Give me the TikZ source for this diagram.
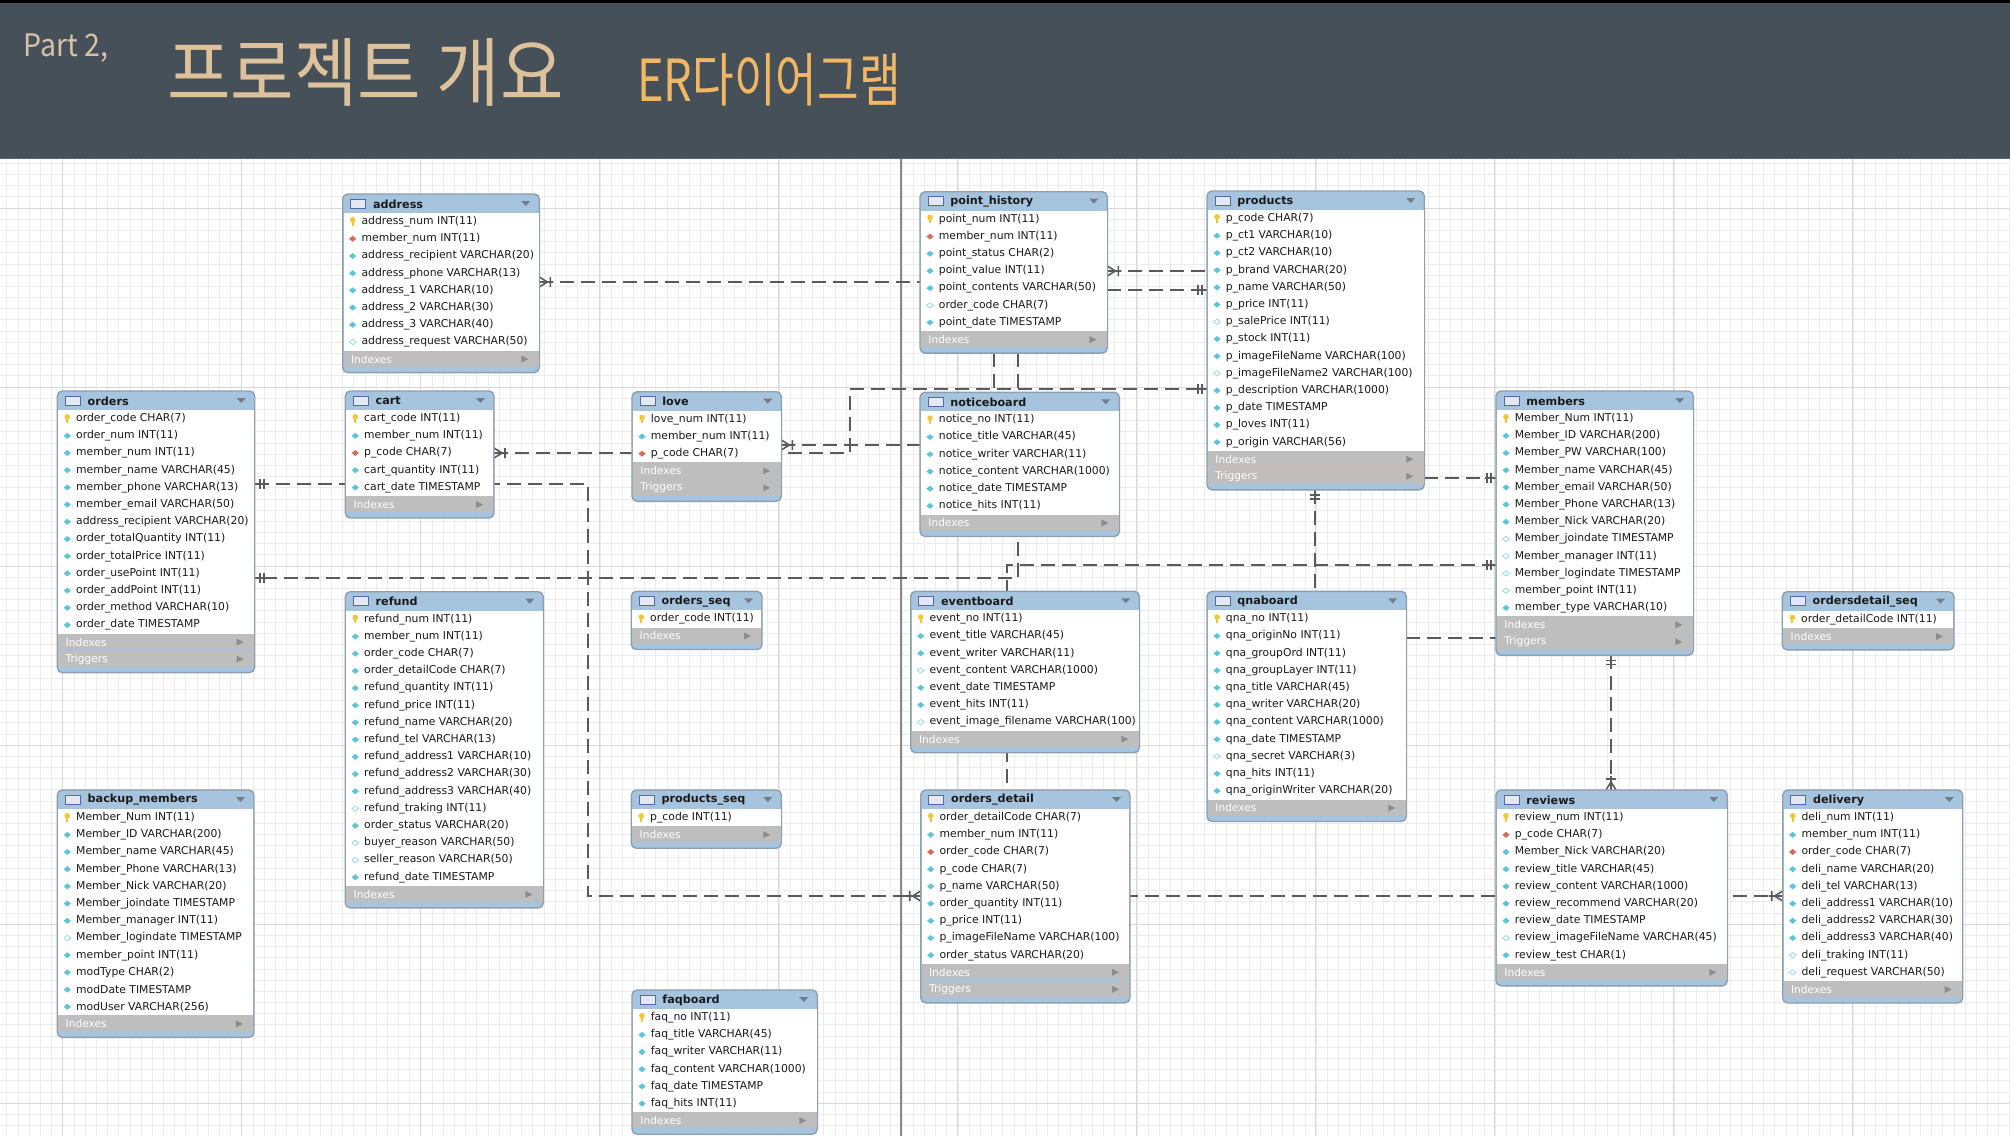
\documentclass[tikz,border=0pt]{standalone}
\usepackage{fontspec}
\setmainfont{DejaVu Sans}
\newfontfamily\krfont{Noto Sans CJK KR}
\usetikzlibrary{fit}
\pgfdeclarelayer{gridlayer}
\pgfdeclarelayer{linklayer}
\pgfsetlayers{gridlayer,linklayer,main}

\definecolor{hdrbg}{HTML}{465059}
\definecolor{hdrline}{HTML}{5E6872}
\definecolor{parttxt}{HTML}{D6C2A6}
\definecolor{ttltxt}{HTML}{DCC19C}
\definecolor{ertxt}{HTML}{F2B765}
\definecolor{gridminor}{HTML}{ECECEC}
\definecolor{gridmajor}{HTML}{D9D9D9}
\definecolor{pageline}{HTML}{8A8A8A}
\definecolor{hdrblue}{HTML}{A7C4DF}
\definecolor{tbborder}{HTML}{8E9FB0}
\definecolor{footgray}{HTML}{BEBEBE}
\definecolor{footarrow}{HTML}{8C8C8C}
\definecolor{droptri}{HTML}{6F7D8C}
\definecolor{rowcol}{HTML}{1A1A1A}
\definecolor{keyyel}{HTML}{F5C537}
\definecolor{diacyan}{HTML}{5CC6D6}
\definecolor{diared}{HTML}{D66A60}
\definecolor{iconfill}{HTML}{E4E8F6}
\definecolor{iconedge}{HTML}{5668A8}
\definecolor{linkcol}{HTML}{5A5A5A}

\tikzset{
  rowtext/.style={font=\fontsize{5.4}{6}\selectfont,text=rowcol,inner sep=0pt,anchor=west},
  ttltext/.style={font=\bfseries\fontsize{5.6}{6}\selectfont,text=rowcol,inner sep=0pt,anchor=west},
  foottext/.style={font=\fontsize{5.3}{6}\selectfont,text=white,inner sep=0pt,anchor=west},
  link/.style={draw=linkcol,line width=0.8pt,dash pattern=on 7pt off 3.5pt},
  markline/.style={draw=linkcol,line width=0.8pt},
  onemark/.pic={\draw[markline] (0,0) -- (11,0) (5,-5) -- (5,5) (9,-5) -- (9,5);},
  manymark/.pic={\draw[markline] (0,-5) -- (8,0) -- (0,5) (0,0) -- (14,0) (11,-5) -- (11,5);}
}

\newcommand\iconK[2]{\fill[keyyel] (#1,#2-1.8) circle[radius=1.4pt]; \draw[keyyel,line width=0.9pt] (#1,#2-1) -- (#1,#2+4);}
\newcommand\iconC[2]{\fill[diacyan] (#1-3.6,#2) -- (#1,#2-3) -- (#1+3.6,#2) -- (#1,#2+3) -- cycle;}
\newcommand\iconF[2]{\fill[diared] (#1-3.6,#2) -- (#1,#2-3) -- (#1+3.6,#2) -- (#1,#2+3) -- cycle;}
\newcommand\iconO[2]{\filldraw[fill=white,draw=diacyan!70,line width=0.35pt] (#1-3.3,#2) -- (#1,#2-2.7) -- (#1+3.3,#2) -- (#1,#2+2.7) -- cycle;}

% name, x, y, w, nrows, nfooters, title, rows
\newcommand\dbtable[8]{%
  \pgfmathsetmacro\tbA{#3+19}%
  \pgfmathsetmacro\tbB{#3+19+17.2*#5}%
  \pgfmathsetmacro\tbC{#3+19+17.2*#5+17*#6+5}%
  \pgfmathsetmacro\tbR{#2+#4}%
  \draw[draw=tbborder,line width=0.7pt,fill=hdrblue,rounded corners=2.5pt] (#2,#3) rectangle (\tbR,\tbC);
  \fill[white] (#2+0.8,\tbA) rectangle (\tbR-0.8,\tbB);
  \foreach \j in {1,...,#6}{%
    \pgfmathsetmacro\fy{\tbB+17*\j-17}%
    \fill[footgray] (#2+0.8,\fy) rectangle (\tbR-0.8,\fy+16.2);
    \node[foottext] at (#2+8,\fy+8.5) {\ifnum\j=1 Indexes\else Triggers\fi};
    \fill[footarrow] (\tbR-18,\fy+5) -- (\tbR-18,\fy+12) -- (\tbR-11,\fy+8.5) -- cycle;
  }
  \draw[iconedge,fill=iconfill,line width=0.4pt] (#2+8,#3+5) rectangle (#2+23,#3+14);
  \node[ttltext] at (#2+30,#3+10) {#7};
  \fill[droptri] (\tbR-18,#3+7) -- (\tbR-9,#3+7) -- (\tbR-13.5,#3+12) -- cycle;
  \foreach \ty/\tx [count=\i from 0] in {#8}{%
    \pgfmathsetmacro\ry{#3+19+8.6+17.2*\i}%
    \csname icon\ty\endcsname{#2+10}{\ry}%
    \node[rowtext] at (#2+18.5,\ry) {\tx};
  }
  \node[inner sep=0pt,outer sep=0pt,fit={(#2,#3) (\tbR,\tbC)}] (#1) {};
}

\begin{document}
\begin{tikzpicture}[x=0.5pt,y=-0.5pt]
\useasboundingbox (0,0) rectangle (2010,1136);

% ---------- background, grid, header ----------
\begin{pgfonlayer}{gridlayer}
  \fill[white] (0,159) rectangle (2010,1136);
  \foreach \k in {-5,...,174} {\draw[gridminor,line width=0.3pt] (62.7+\k*11.19,159) -- (62.7+\k*11.19,1136);}
  \foreach \k in {-52,...,35} {\draw[gridminor,line width=0.3pt] (0,745+\k*11.19) -- (2010,745+\k*11.19);}
  \foreach \k in {0,...,11} {\draw[gridmajor,line width=0.4pt] (62.7+\k*179,159) -- (62.7+\k*179,1136);}
  \foreach \k in {-3,...,2} {\draw[gridmajor,line width=0.4pt] (0,745+\k*179) -- (2010,745+\k*179);}
  \draw[pageline,line width=0.9pt] (901,159) -- (901,1136);
  \fill[hdrbg] (0,0) rectangle (2010,159);
  \fill[black] (0,0) rectangle (2010,3);
  \draw[hdrline,line width=0.6pt] (0,158.5) -- (2010,158.5);
\end{pgfonlayer}

\node[anchor=base west,inner sep=0pt,text=parttxt,font=\krfont\fontsize{15.5}{16}\selectfont,xscale=0.92] (part) at (23,56) {Part 2,};
\node[anchor=base west,inner sep=0pt,text=ttltxt,font=\krfont\fontsize{37.5}{40}\selectfont,xscale=0.92] (maintitle) at (167,100) {프로젝트 개요};
\node[anchor=base west,inner sep=0pt,text=ertxt,font=\krfont\fontsize{29}{32}\selectfont,xscale=0.78] (ertitle) at (637,101) {ER다이어그램};

% ---------- tables ----------
\dbtable{address}{342.7}{194}{196.6}{8}{1}{address}{K/address\_num INT(11), F/member\_num INT(11), C/address\_recipient VARCHAR(20), C/address\_phone VARCHAR(13), C/address\_1 VARCHAR(10), C/address\_2 VARCHAR(30), C/address\_3 VARCHAR(40), O/address\_request VARCHAR(50)}

\dbtable{pointhistory}{920}{191.7}{187.3}{7}{1}{point\_history}{K/point\_num INT(11), F/member\_num INT(11), C/point\_status CHAR(2), C/point\_value INT(11), C/point\_contents VARCHAR(50), O/order\_code CHAR(7), C/point\_date TIMESTAMP}

\dbtable{products}{1207}{191}{217.3}{14}{2}{products}{K/p\_code CHAR(7), C/p\_ct1 VARCHAR(10), C/p\_ct2 VARCHAR(10), C/p\_brand VARCHAR(20), C/p\_name VARCHAR(50), C/p\_price INT(11), O/p\_salePrice INT(11), C/p\_stock INT(11), C/p\_imageFileName VARCHAR(100), O/p\_imageFileName2 VARCHAR(100), C/p\_description VARCHAR(1000), C/p\_date TIMESTAMP, C/p\_loves INT(11), C/p\_origin VARCHAR(56)}

\dbtable{orders}{57.3}{391}{197.4}{13}{2}{orders}{K/order\_code CHAR(7), C/order\_num INT(11), C/member\_num INT(11), C/member\_name VARCHAR(45), C/member\_phone VARCHAR(13), C/member\_email VARCHAR(50), C/address\_recipient VARCHAR(20), C/order\_totalQuantity INT(11), C/order\_totalPrice INT(11), C/order\_usePoint INT(11), C/order\_addPoint INT(11), C/order\_method VARCHAR(10), C/order\_date TIMESTAMP}

\dbtable{cart}{345.3}{391}{148.7}{5}{1}{cart}{K/cart\_code INT(11), C/member\_num INT(11), F/p\_code CHAR(7), C/cart\_quantity INT(11), C/cart\_date TIMESTAMP}

\dbtable{love}{632}{391.7}{149.3}{3}{2}{love}{K/love\_num INT(11), C/member\_num INT(11), F/p\_code CHAR(7)}

\dbtable{noticeboard}{920}{392.3}{199.3}{6}{1}{noticeboard}{K/notice\_no INT(11), C/notice\_title VARCHAR(45), C/notice\_writer VARCHAR(11), C/notice\_content VARCHAR(1000), C/notice\_date TIMESTAMP, C/notice\_hits INT(11)}

\dbtable{members}{1496}{391}{197.3}{12}{2}{members}{K/Member\_Num INT(11), C/Member\_ID VARCHAR(200), C/Member\_PW VARCHAR(100), C/Member\_name VARCHAR(45), C/Member\_email VARCHAR(50), C/Member\_Phone VARCHAR(13), C/Member\_Nick VARCHAR(20), O/Member\_joindate TIMESTAMP, O/Member\_manager INT(11), O/Member\_logindate TIMESTAMP, O/member\_point INT(11), C/member\_type VARCHAR(10)}

\dbtable{refund}{345.3}{591.7}{198}{16}{1}{refund}{K/refund\_num INT(11), C/member\_num INT(11), C/order\_code CHAR(7), C/order\_detailCode CHAR(7), C/refund\_quantity INT(11), C/refund\_price INT(11), C/refund\_name VARCHAR(20), C/refund\_tel VARCHAR(13), C/refund\_address1 VARCHAR(10), C/refund\_address2 VARCHAR(30), C/refund\_address3 VARCHAR(40), O/refund\_traking INT(11), C/order\_status VARCHAR(20), O/buyer\_reason VARCHAR(50), O/seller\_reason VARCHAR(50), C/refund\_date TIMESTAMP}

\dbtable{ordersseq}{631.3}{591.3}{130.7}{1}{1}{orders\_seq}{K/order\_code INT(11)}

\dbtable{eventboard}{910.7}{591.3}{228.6}{7}{1}{eventboard}{K/event\_no INT(11), C/event\_title VARCHAR(45), C/event\_writer VARCHAR(11), O/event\_content VARCHAR(1000), C/event\_date TIMESTAMP, C/event\_hits INT(11), O/event\_image\_filename VARCHAR(100)}

\dbtable{qnaboard}{1207}{591.3}{199.3}{11}{1}{qnaboard}{K/qna\_no INT(11), C/qna\_originNo INT(11), C/qna\_groupOrd INT(11), C/qna\_groupLayer INT(11), C/qna\_title VARCHAR(45), C/qna\_writer VARCHAR(20), C/qna\_content VARCHAR(1000), C/qna\_date TIMESTAMP, O/qna\_secret VARCHAR(3), C/qna\_hits INT(11), C/qna\_originWriter VARCHAR(20)}

\dbtable{odseq}{1782.3}{591.7}{171.7}{1}{1}{ordersdetail\_seq}{K/order\_detailCode INT(11)}

\dbtable{backup}{57.3}{790}{196.7}{12}{1}{backup\_members}{K/Member\_Num INT(11), C/Member\_ID VARCHAR(200), C/Member\_name VARCHAR(45), C/Member\_Phone VARCHAR(13), C/Member\_Nick VARCHAR(20), C/Member\_joindate TIMESTAMP, C/Member\_manager INT(11), O/Member\_logindate TIMESTAMP, C/member\_point INT(11), C/modType CHAR(2), C/modDate TIMESTAMP, C/modUser VARCHAR(256)}

\dbtable{productsseq}{631.3}{790}{150}{1}{1}{products\_seq}{K/p\_code INT(11)}

\dbtable{ordersdetail}{920.7}{790}{209.3}{9}{2}{orders\_detail}{K/order\_detailCode CHAR(7), C/member\_num INT(11), F/order\_code CHAR(7), C/p\_code CHAR(7), C/p\_name VARCHAR(50), C/order\_quantity INT(11), C/p\_price INT(11), C/p\_imageFileName VARCHAR(100), C/order\_status VARCHAR(20)}

\dbtable{reviews}{1496}{790}{231.3}{9}{1}{reviews}{K/review\_num INT(11), F/p\_code CHAR(7), C/Member\_Nick VARCHAR(20), C/review\_title VARCHAR(45), C/review\_content VARCHAR(1000), C/review\_recommend VARCHAR(20), C/review\_date TIMESTAMP, O/review\_imageFileName VARCHAR(45), C/review\_test CHAR(1)}

\dbtable{delivery}{1782.7}{790}{180}{10}{1}{delivery}{K/deli\_num INT(11), C/member\_num INT(11), F/order\_code CHAR(7), C/deli\_name VARCHAR(20), C/deli\_tel VARCHAR(13), C/deli\_address1 VARCHAR(10), C/deli\_address2 VARCHAR(30), C/deli\_address3 VARCHAR(40), O/deli\_traking INT(11), O/deli\_request VARCHAR(50)}

\dbtable{faqboard}{632}{990}{185.3}{6}{1}{faqboard}{K/faq\_no INT(11), C/faq\_title VARCHAR(45), C/faq\_writer VARCHAR(11), C/faq\_content VARCHAR(1000), C/faq\_date TIMESTAMP, C/faq\_hits INT(11)}

% ---------- connectors ----------
\begin{pgfonlayer}{linklayer}
  \draw[link] (address.east |- 0,282) -- (pointhistory.west |- 0,282);
  \pic at (address.east |- 0,282) {manymark};

  \draw[link] (pointhistory.east |- 0,271) -- (products.west |- 0,271);
  \pic at (pointhistory.east |- 0,271) {manymark};
  \draw[link] (pointhistory.east |- 0,290) -- (products.west |- 0,290);
  \pic[rotate=180] at (products.west |- 0,290) {onemark};

  \draw[link] (cart.east |- 0,453) -- (850,453) -- (850,389) -- (products.west |- 0,389);
  \pic at (cart.east |- 0,453) {manymark};
  \pic[rotate=180] at (products.west |- 0,389) {onemark};

  \draw[link] (love.east |- 0,445) -- (noticeboard.west |- 0,445);
  \pic at (love.east |- 0,445) {manymark};

  \draw[link] (pointhistory.south -| 994,0) -- (994,389);
  \draw[link] (pointhistory.south -| 1017.7,0) -- (1017.7,578) -- (orders.east |- 0,578);
  \pic at (orders.east |- 0,578) {onemark};

  \draw[link] (members.west |- 0,565) -- (1006.7,565) -- (ordersdetail.north -| 1006.7,0);
  \pic[rotate=180] at (members.west |- 0,565) {onemark};

  \draw[link] (orders.east |- 0,484) -- (588,484) -- (588,896) -- (delivery.west |- 0,896);
  \pic at (orders.east |- 0,484) {onemark};
  \pic[rotate=180] at (ordersdetail.west |- 0,896) {manymark};
  \pic[rotate=180] at (delivery.west |- 0,896) {manymark};

  \draw[link] (products.south -| 1315,0) -- (qnaboard.north -| 1315,0);
  \pic[rotate=-90] at (products.south -| 1315,0) {onemark};

  \draw[link] (products.east |- 0,478) -- (members.west |- 0,478);
  \pic[rotate=180] at (members.west |- 0,478) {onemark};

  \draw[link] (qnaboard.east |- 0,638) -- (members.west |- 0,638);

  \draw[link] (members.south -| 1611,0) -- (reviews.north -| 1611,0);
  \pic[rotate=-90] at (members.south -| 1611,0) {onemark};
  \pic[rotate=90] at (reviews.north -| 1611,0) {manymark};
\end{pgfonlayer}
\end{tikzpicture}
\end{document}
